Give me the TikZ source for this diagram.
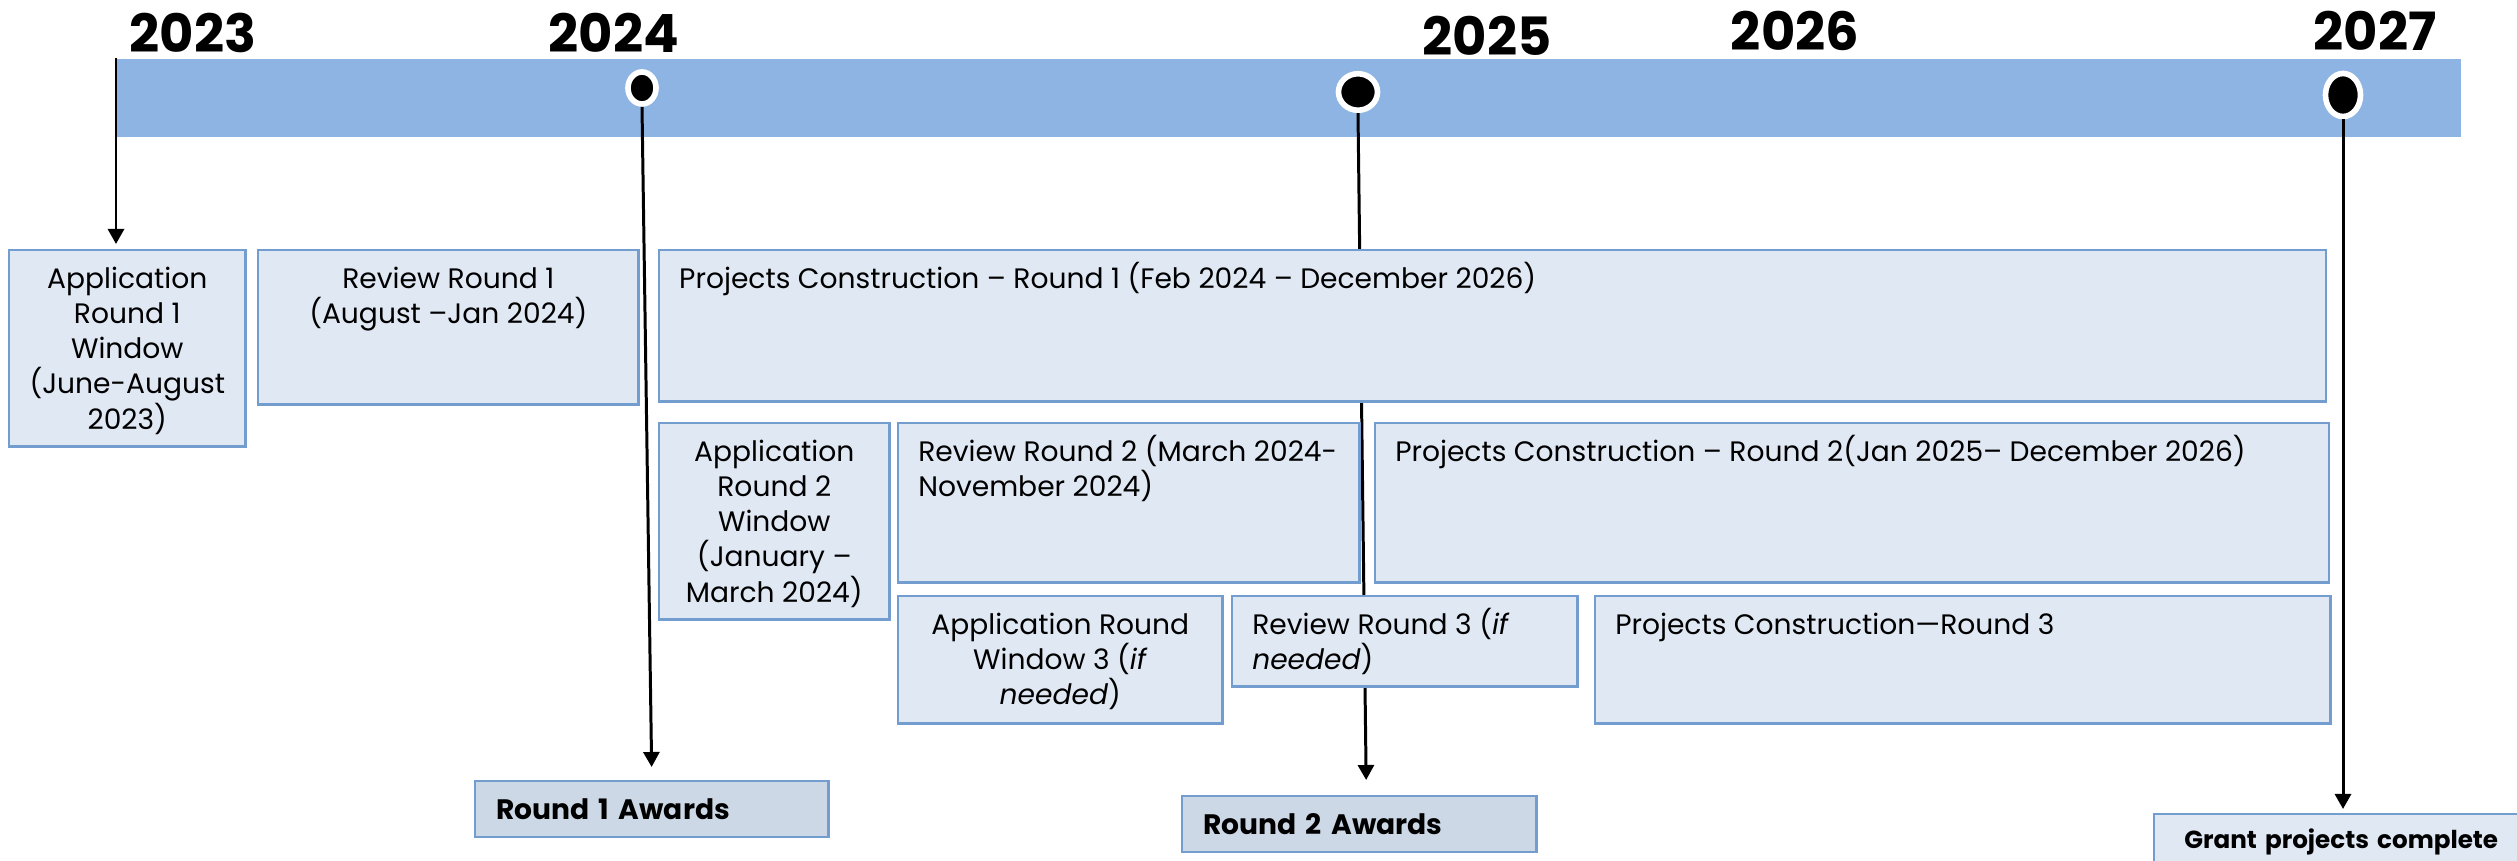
\documentclass[tikz,border=0pt]{standalone}
\usepackage{fontspec}
\setmainfont{Poppins}
\usetikzlibrary{arrows.meta,shapes.geometric}

\definecolor{barblue}{HTML}{8EB4E3}
\definecolor{boxfill}{HTML}{E0E8F4}
\definecolor{boxline}{HTML}{739CCF}
\definecolor{awardfill}{HTML}{CCD8E6}

% same first baseline in every box
\newcommand{\firstline}{\rule{0pt}{8pt}}

\begin{document}
\begin{tikzpicture}[x=0.01cm, y=-0.01cm,
    year/.style={font=\bfseries\fontsize{15}{18}\selectfont},
    stage/.style={draw=boxline, fill=boxfill, line width=0.7pt, anchor=north west,
        inner xsep=0.05cm, inner ysep=0.1cm, font=\fontsize{8}{10}\selectfont},
    stageleft/.style={stage, inner xsep=0.2cm},
    award/.style={stage, fill=awardfill, inner xsep=0.21cm, inner ysep=0, align=left,
        minimum height=0.56cm, font=\bfseries\fontsize{8}{10}\selectfont},
    milestone/.style={ellipse, draw=white, line width=1.6pt, fill=black, inner sep=0},
    link/.style={line width=0.85pt, -{Triangle[width=0.16cm,length=0.15cm]}}]
    \useasboundingbox (0,0) rectangle (2517,861);

    % timeline bar and years
    \node[fill=barblue, inner sep=0, minimum width=23.43cm, minimum height=0.78cm, anchor=north west] (bar) at (116,58) {};
    \node[year] (y2023) at (193,33) {2023};
    \node[year] (y2024) at (614,33) {2024};
    \node[year] (y2025) at (1487,36) {2025};
    \node[year] (y2026) at (1795,31) {2026};
    \node[year] (y2027) at (2375,31) {2027};

    \node[milestone, minimum width=0.28cm, minimum height=0.32cm] (dotone) at (642,88) {};
    \node[milestone, minimum width=0.39cm, minimum height=0.365cm] (dottwo) at (1358,92) {};
    \node[milestone, minimum width=0.35cm, minimum height=0.43cm] (dotthree) at (2343,95) {};

    % boxes the arrows point at
    \node[stage] (appone) at (8,249) {\parbox[c][1.76cm][t]{2.26cm}{\centering\firstline Application\\Round 1\\Window\\(June-August\\2023)}};
    \node[award, text width=3.11cm] (awardone) at (474,780) {Round 1 Awards};
    \node[award, text width=3.12cm] (awardtwo) at (1181,795) {Round 2 Awards};
    \node[award, fill=boxfill, inner xsep=0.3cm, text width=3.4cm, font=\bfseries\fontsize{7}{9}\selectfont] (grant) at (2153,813) {Grant projects complete};

    \draw[link, shorten >=0.05cm] (bar.north west) -- (bar.north west |- appone.north);
    \draw[link, shorten >=0.13cm] (dotone.south) -- (awardone.north);
    \draw[link, shorten >=0.15cm] (dottwo.south) -- ([xshift=0.07cm]awardtwo.north);
    \draw[link, shorten >=0.04cm] (dotthree.south) -- (dotthree.south |- grant.north);

    % remaining stages
    \node[stage] (revone) at (257,249) {\parbox[c][1.34cm][t]{3.70cm}{\centering\firstline Review Round 1\\(August –Jan 2024)}};
    \node[stageleft] (conone) at (658,249) {\parbox[c][1.31cm][t]{16.26cm}{\raggedright\firstline Projects Construction – Round 1 (Feb 2024 – December 2026)}};
    \node[stage] (apptwo) at (658,422) {\parbox[c][1.76cm][t]{2.20cm}{\centering\firstline Application\\Round 2\\Window\\(January –\\March 2024)}};
    \node[stageleft] (revtwo) at (897,422) {\parbox[c][1.39cm][t]{4.21cm}{\raggedright\firstline Review Round 2 (March 2024-\\November 2024)}};
    \node[stageleft] (contwo) at (1374,422) {\parbox[c][1.39cm][t]{9.13cm}{\raggedright\firstline Projects Construction – Round 2(Jan 2025– December 2026)}};
    \node[stage] (appthree) at (897,595) {\parbox[c][1.07cm][t]{3.14cm}{\centering\firstline Application Round\\Window 3 (\textit{if}\\\textit{needed})}};
    \node[stageleft] (revthree) at (1231,595) {\parbox[c][0.70cm][t]{3.05cm}{\raggedright\firstline Review Round 3 (\textit{if}\\\textit{needed})}};
    \node[stageleft] (conthree) at (1594,595) {\parbox[c][1.07cm][t]{6.95cm}{\raggedright\firstline Projects Construction—Round 3}};
\end{tikzpicture}
\end{document}
